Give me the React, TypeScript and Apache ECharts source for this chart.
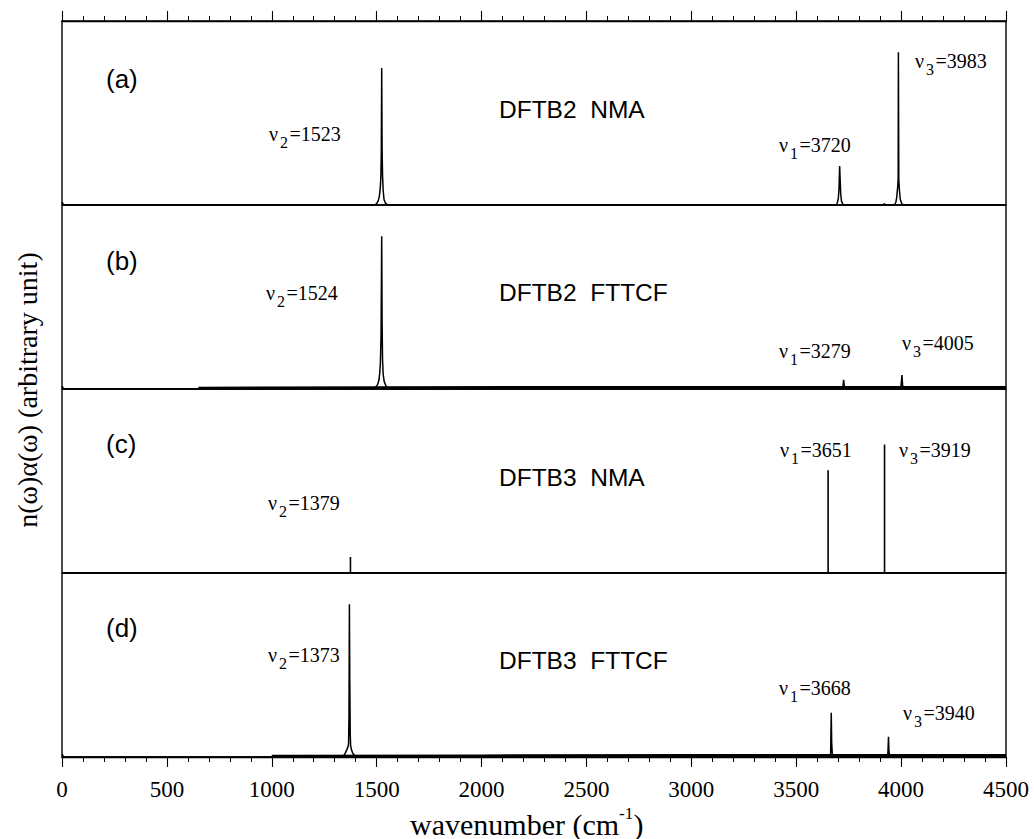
import React, { useEffect, useRef } from "react";
import * as echarts from "echarts";

// ---- data (y in arbitrary units, 0..100 per panel) ----
const xMin = 0;
const xMax = 4500;
const xStep = 500;

const panelLetters = ["(a)", "(b)", "(c)", "(d)"];
const methodNames = ["DFTB2  NMA", "DFTB2  FTTCF", "DFTB3  NMA", "DFTB3  FTTCF"];

const specA: [number, number][] = [
  [0, 1.5], [8, 0], [1490, 0], [1500, 0.8], [1508, 2.5], [1513, 5], [1517, 9], [1520, 15], [1522, 28],
  [1524, 74.5], [1526, 30], [1528, 16], [1531, 8], [1535, 3], [1542, 1], [1555, 0],
  [3690, 0], [3697, 1.5], [3701, 4], [3704, 9], [3707, 21.2], [3709, 15], [3712, 6], [3716, 2], [3724, 0],
  [3915, 0], [3921, 0.8], [3925, 0],
  [3968, 0], [3975, 1.5], [3979, 4], [3983, 9], [3986, 14], [3987, 83], [3989, 14], [3992, 8], [3996, 3],
  [4004, 0.5], [4015, 0], [4500, 0],
];
const specB: [number, number][] = [
  [0, 1.5], [8, 0], [1480, 0], [1495, 1], [1505, 2.5], [1511, 5], [1515, 9], [1518, 15], [1521, 30],
  [1524, 83], [1526, 35], [1528, 16], [1531, 8], [1536, 4], [1545, 1.5], [1560, 0],
  [3718, 0], [3723, 1.5], [3726, 5], [3729, 1.5], [3734, 0],
  [3995, 0], [4000, 2], [4004, 7.6], [4007, 2], [4012, 0], [4500, 0],
];
const specC: [number, number][] = [
  [0, 0], [1375, 0], [1375, 8.7], [1375, 0],
  [3652, 0], [3652, 55.8], [3652, 0],
  [3921, 0], [3921, 69.8], [3921, 0], [4500, 0],
];
const specD: [number, number][] = [
  [0, 1.5], [8, 0], [1335, 0], [1345, 1], [1352, 2.5], [1358, 4], [1363, 5.5], [1366, 7], [1368, 22],
  [1370, 83], [1372, 40], [1374, 12], [1376, 6], [1380, 4], [1386, 2], [1395, 0.8], [1405, 0],
  [3660, 0], [3664, 2], [3667, 24], [3669, 8], [3672, 1.5], [3677, 0],
  [3933, 0], [3937, 2], [3940, 11], [3942, 3], [3946, 0], [4500, 0],
];
// noise floor of the FTTCF spectra
const noiseB: [number, number][] = [[650, 0.5], [1500, 0.8], [2500, 0.9], [3500, 0.9], [4500, 0.9]];
const noiseD: [number, number][] = [[1000, 0.5], [2000, 0.7], [3000, 0.9], [4000, 0.9], [4500, 0.9]];

const modeSubs = [
  ["2", "1", "3"],
  ["2", "1", "3"],
  ["2", "1", "3"],
  ["2", "1", "3"],
];
const modeValues = [
  ["1523", "3720", "3983"],
  ["1524", "3279", "4005"],
  ["1379", "3651", "3919"],
  ["1373", "3668", "3940"],
];

// ---- layout ----
const gridLeft = 62;
const gridWidth = 944;
const gridTops = [21, 205, 389, 573];
const gridHeight = 184;
const letterPos = [[106, 79], [106, 261], [106, 444], [106, 628]];
const methodPos = [[499, 109], [499, 292], [499, 477], [499, 660]];
const modePos = [
  [[269, 134], [779, 145], [915, 61]],
  [[266, 293], [779, 351], [902, 343]],
  [[268, 503], [780, 450], [899, 450]],
  [[268, 655], [779, 688], [903, 713]],
];

const SERIF = '"Liberation Serif", "Times New Roman", serif';
const SANS = '"Liberation Sans", Arial, sans-serif';

function nuLabel(x: number, y: number, sub: string, val: string) {
  return {
    type: "group",
    x,
    y,
    children: [
      { type: "text", x: 0, y: 0, style: { text: "ν", font: `20px ${SERIF}`, fill: "#000", verticalAlign: "middle" } },
      { type: "text", x: 11, y: 8.5, style: { text: sub, font: `16px ${SERIF}`, fill: "#000", verticalAlign: "middle" } },
      { type: "text", x: 20.5, y: 0, style: { text: "=" + val, font: `20px ${SERIF}`, fill: "#000", verticalAlign: "middle" } },
    ],
  };
}

export default function App() {
  const ref = useRef<HTMLDivElement>(null);
  useEffect(() => {
    if (!ref.current) return;
    const chart = echarts.init(ref.current, null, { renderer: "svg" });
    const specs = [specA, specB, specC, specD];
    const noises: ([number, number][] | null)[] = [null, noiseB, null, noiseD];

    const grid = gridTops.map((t) => ({
      left: gridLeft,
      top: t,
      width: gridWidth,
      height: gridHeight,
      show: true,
      borderColor: "#000",
      borderWidth: 1.4,
      backgroundColor: "transparent",
    }));

    const tickAxis = (gridIndex: number, position: string, labels: boolean) => ({
      gridIndex,
      type: "value",
      position,
      min: xMin,
      max: xMax,
      interval: xStep,
      axisLine: { show: true, lineStyle: { color: "#000", width: 1.4 } },
      axisTick: { show: true, inside: false, length: 10, lineStyle: { color: "#000", width: 1.1 } },
      minorTick: { show: true, splitNumber: 5, length: 5, lineStyle: { color: "#000", width: 1 } },
      axisLabel: {
        show: labels,
        fontFamily: SERIF,
        fontSize: 23,
        color: "#000",
        margin: 21,
        formatter: (v: number) => String(v),
      },
      splitLine: { show: false },
      minorSplitLine: { show: false },
    });

    const xAxis: any[] = [];
    for (let i = 0; i < 4; i++) {
      if (i === 3) xAxis.push(tickAxis(3, "bottom", true));
      else
        xAxis.push({
          gridIndex: i,
          type: "value",
          min: xMin,
          max: xMax,
          interval: xStep,
          show: false,
        });
    }
    xAxis.push(tickAxis(0, "top", false));

    const yAxis = gridTops.map((_, i) => ({
      gridIndex: i,
      type: "value",
      min: 0,
      max: 100,
      show: false,
    }));

    const series: any[] = [];
    specs.forEach((d, i) => {
      series.push({
        type: "line",
        xAxisIndex: i,
        yAxisIndex: i,
        data: d,
        showSymbol: false,
        symbol: "none",
        lineStyle: { color: "#000", width: i === 2 ? 1.6 : 1.5 },
        silent: true,
        z: 3,
      });
      const n = noises[i];
      if (n) {
        series.push({
          type: "line",
          xAxisIndex: i,
          yAxisIndex: i,
          data: n,
          showSymbol: false,
          symbol: "none",
          lineStyle: { color: "#000", width: 2.6 },
          silent: true,
          z: 2,
        });
      }
    });

    const graphic: any[] = [];
    panelLetters.forEach((t, i) => {
      graphic.push({
        type: "text",
        x: letterPos[i][0],
        y: letterPos[i][1],
        style: { text: t, font: `26px ${SANS}`, fill: "#000", verticalAlign: "middle" },
      });
      graphic.push({
        type: "text",
        x: methodPos[i][0],
        y: methodPos[i][1],
        style: { text: methodNames[i], font: `24.5px ${SANS}`, fill: "#000", verticalAlign: "middle" },
      });
      for (let k = 0; k < 3; k++) {
        graphic.push(nuLabel(modePos[i][k][0], modePos[i][k][1], modeSubs[i][k], modeValues[i][k]));
      }
    });
    // x axis title
    graphic.push({
      type: "group",
      x: 410,
      y: 824,
      children: [
        { type: "text", x: 0, y: 0, style: { text: "wavenumber (cm", font: `30px ${SERIF}`, fill: "#000", verticalAlign: "middle" } },
        { type: "text", x: 209, y: -11, style: { text: "-1", font: `17px ${SERIF}`, fill: "#000", verticalAlign: "middle" } },
        { type: "text", x: 223.5, y: 0, style: { text: ")", font: `30px ${SERIF}`, fill: "#000", verticalAlign: "middle" } },
      ],
    });
    // y axis title
    graphic.push({
      type: "text",
      x: 27,
      y: 390,
      rotation: Math.PI / 2,
      style: {
        text: "n(ω)α(ω) (arbitrary unit)",
        font: `28px ${SERIF}`,
        fill: "#000",
        align: "center",
        verticalAlign: "middle",
      },
    });

    chart.setOption({
      animation: false,
      backgroundColor: "#fff",
      grid,
      xAxis,
      yAxis,
      series,
      graphic,
    });
    return () => chart.dispose();
  }, []);
  return (
    <div
      ref={ref}
      style={{ position: "absolute", left: 0, top: 0, width: 1034, height: 839, background: "#fff" }}
    />
  );
}
